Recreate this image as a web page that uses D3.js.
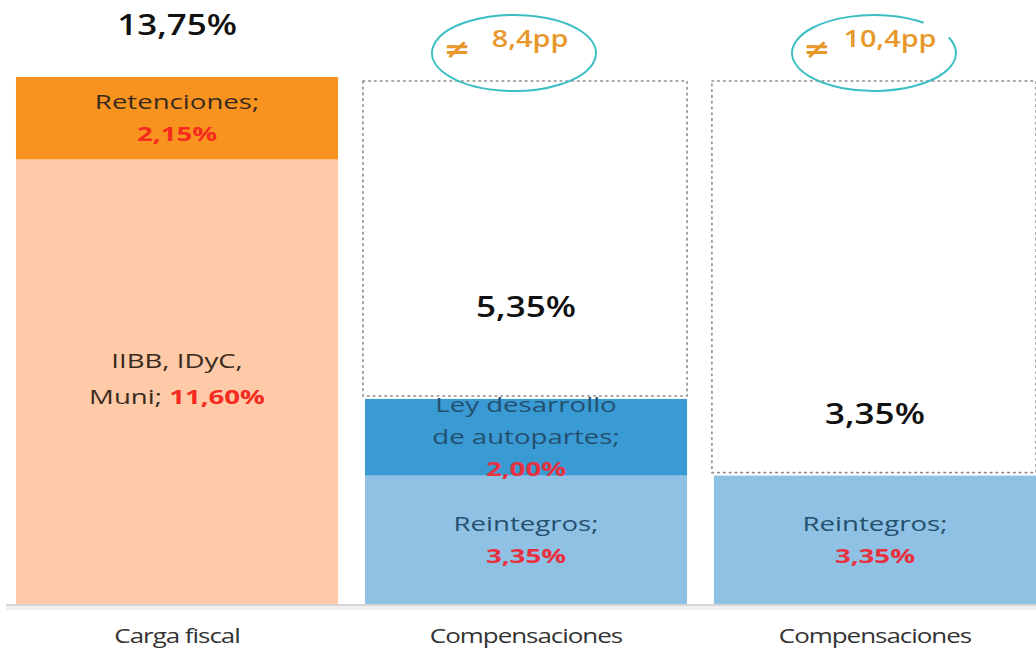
<!DOCTYPE html>
<html lang="es">
<head>
  <meta charset="UTF-8" />
  <title>Carga fiscal vs compensaciones</title>
  <script src="https://d3js.org/d3.v7.min.js"></script>
  <style>
    body {
      margin: 0;
      background: #fff;
      font-family: 'Open Sans', 'Noto Sans', sans-serif;
    }
    svg { display: block; }
    .seg-label { font-size: 20px; }
    .total-label { font-size: 28px; font-weight: 600; fill: #111; }
    .cat-label { font-size: 20px; fill: #333; letter-spacing: -0.8px; }
    .gap-label { font-size: 24px; font-weight: 600; fill: #E8982A; }
    .neq { font-family: 'DejaVu Sans', sans-serif; font-size: 26px; font-weight: 700; fill: #E8982A; }
  </style>
</head>
<body>
<svg width="1036" height="649"></svg>

<script>
// categories (ids + visible labels)
const categories = ["carga", "comp1", "comp2"];
const categoryLabels = ["Carga fiscal", "Compensaciones", "Compensaciones"];

// stacked segments per category, bottom to top
const segments = [
  { cat: "carga", name: ["IIBB, IDyC,", "Muni;"], value: 11.60, inline: true },
  { cat: "carga", name: ["Retenciones;"], value: 2.15 },
  { cat: "comp1", name: ["Reintegros;"], value: 3.35 },
  { cat: "comp1", name: ["Ley desarrollo", "de autopartes;"], value: 2.00 },
  { cat: "comp2", name: ["Reintegros;"], value: 3.35 }
];
const segmentColors = ["#FECAA8", "#F8931F", "#8FC1E5", "#3A9AD4", "#8FC1E5"];

// totals shown above / inside the gap
const totals = [13.75, 5.35, 3.35];
const totalLabels = ["13,75%", "5,35%", "3,35%"];
// difference to the fiscal burden
const gaps = [null, "8,4pp", "10,4pp"];

const fmt = v => d3.format(".2f")(v).replace(".", ",") + "%";

const svg = d3.select("svg");
const W = 1036, baseY = 604, topY = 77;
// the source picture is stretched horizontally
const SX = 1.38;

const x = d3.scaleBand()
  .domain(categories)
  .range([9, 1043])
  .paddingInner(0.077)
  .paddingOuter(0.02);
const cxOf = c => x(c) + x.bandwidth() / 2;

const y = d3.scaleLinear()
  .domain([0, totals[0]])
  .range([baseY, topY]);

// stack offsets
const offsets = {};
segments.forEach(s => {
  s.y0 = offsets[s.cat] || 0;
  s.y1 = s.y0 + s.value;
  offsets[s.cat] = s.y1;
});

// dotted boxes for the gap between compensations and the burden
categories.slice(1).forEach((c, i) => {
  const top = totals[0], bottom = totals[i + 1];
  svg.append("rect")
    .attr("x", x(c) - 2)
    .attr("y", y(top) + 4)
    .attr("width", x.bandwidth() + 2)
    .attr("height", y(bottom) - y(top) - 7)
    .attr("fill", "none")
    .attr("stroke", "#8a8a8a")
    .attr("stroke-width", 1.6)
    .attr("stroke-dasharray", "1.6,4.2")
    .attr("stroke-linecap", "round");
});

// bars
svg.selectAll("rect.seg")
  .data(segments)
  .enter()
  .append("rect")
  .attr("class", "seg")
  .attr("x", d => x(d.cat))
  .attr("y", d => y(d.y1))
  .attr("width", x.bandwidth())
  .attr("height", d => y(d.y0) - y(d.y1))
  .attr("fill", (d, i) => segmentColors[i]);

// axis baseline
svg.append("line")
  .attr("x1", 6).attr("x2", W)
  .attr("y1", baseY + 1).attr("y2", baseY + 1)
  .attr("stroke", "#d4d4d4").attr("stroke-width", 2);
svg.append("line")
  .attr("x1", 6).attr("x2", W)
  .attr("y1", baseY + 4).attr("y2", baseY + 4)
  .attr("stroke", "#f1f1f1").attr("stroke-width", 4);

// text helper: anchored at (cx, cy), stretched horizontally
function label(cls, cx, cy, sx) {
  return svg.append("text")
    .attr("class", cls)
    .attr("text-anchor", "middle")
    .attr("transform", `translate(${cx},${cy}) scale(${sx},1)`);
}

// segment labels
segments.forEach(s => {
  const cx = cxOf(s.cat);
  const isBlue = s.cat !== "carga";
  const txtColor = isBlue ? "#24506F" : "#3a2a1e";
  const valColor = isBlue ? "#E8303F" : "#F42B1E";
  const lines = s.inline ? s.name.length : s.name.length + 1;
  const lh = s.inline ? 36 : 32;
  const midY = (y(s.y0) + y(s.y1)) / 2 + (s.inline ? -3 : 0);
  const startY = midY - (lines - 1) * lh / 2;
  const t = label("seg-label", cx, startY, SX);
  s.name.forEach((n, j) => {
    t.append("tspan")
      .attr("x", 0)
      .attr("y", j * lh)
      .attr("dy", "0.35em")
      .attr("fill", txtColor)
      .text(n);
    if (s.inline && j === s.name.length - 1) {
      t.append("tspan")
        .attr("fill", valColor)
        .attr("font-weight", 700)
        .text(" " + fmt(s.value));
    }
  });
  if (!s.inline) {
    t.append("tspan")
      .attr("x", 0)
      .attr("y", s.name.length * lh)
      .attr("dy", "0.35em")
      .attr("fill", valColor)
      .attr("font-weight", 700)
      .text(fmt(s.value));
  }
});

// totals
const totalY = [
  25,
  (y(totals[0]) + y(totals[1])) / 2 + 69,
  (y(totals[0]) + y(totals[2])) / 2 + 138
];
categories.forEach((c, i) => {
  label("total-label", cxOf(c), totalY[i], 1.25)
    .attr("dy", "0.35em")
    .text(totalLabels[i]);
});

// gap annotations with hand-drawn ellipses
const ellipseDx = [0, -12, -1];
categories.forEach((c, i) => {
  if (!gaps[i]) return;
  const cx = cxOf(c) + ellipseDx[i];
  const cy = 53;
  const rx = 82, ry = 38;
  const open = i === 2;
  const arc = d3.arc()
    .innerRadius(1).outerRadius(1)
    .startAngle(open ? 1.15 : 0.2)
    .endAngle(open ? 1.15 + Math.PI * 2 - 0.5 : 0.2 + Math.PI * 2);
  svg.append("path")
    .attr("d", arc())
    .attr("transform", `translate(${cx},${cy}) scale(${rx},${ry})`)
    .attr("fill", "none")
    .attr("stroke", "#3CBFC4")
    .attr("stroke-width", 2)
    .attr("vector-effect", "non-scaling-stroke");
  label("neq", cx - 57, cy - 4, 1.25)
    .attr("dy", "0.35em")
    .text("≠");
  label("gap-label", cx + 16, cy - 14, 1.2)
    .attr("dy", "0.35em")
    .text(gaps[i]);
});

// category labels
categories.forEach((c, i) => {
  label("cat-label", cxOf(c), 636, 1.3)
    .attr("dy", "0.35em")
    .text(categoryLabels[i]);
});
</script>
</body>
</html>
